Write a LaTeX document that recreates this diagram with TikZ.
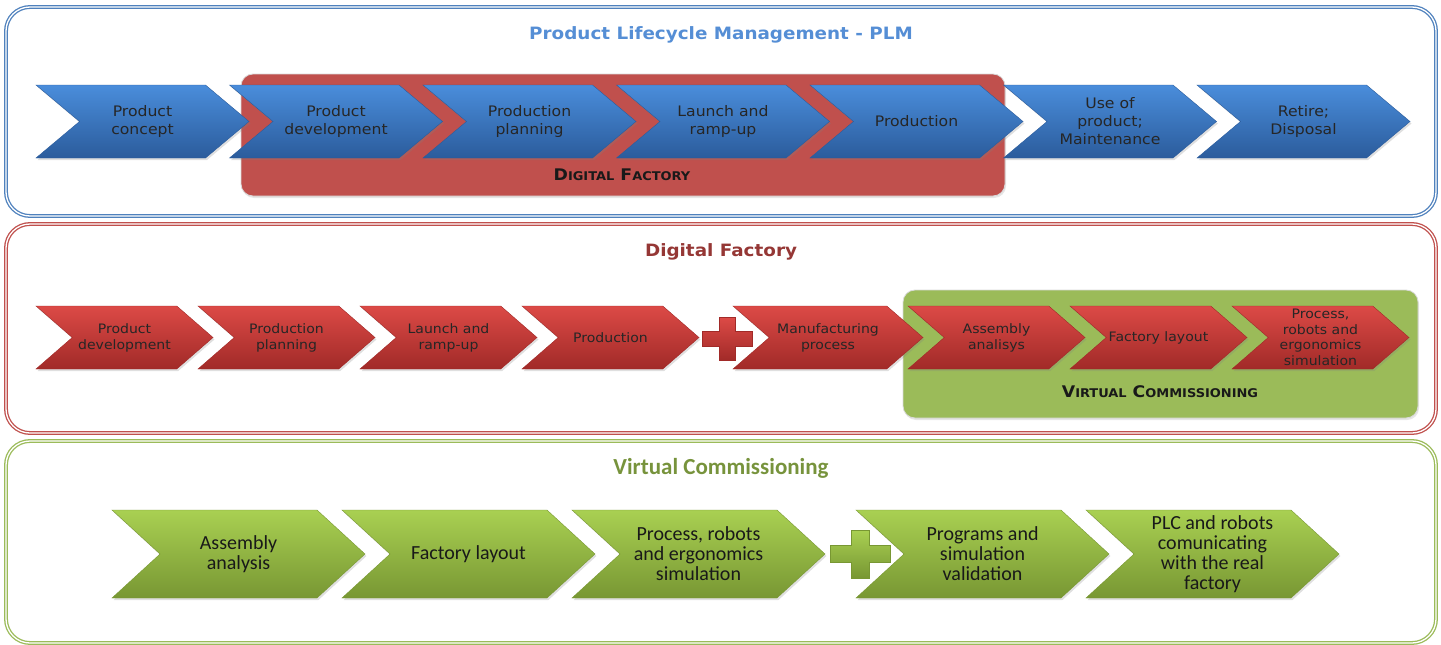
\documentclass[tikz,border=0pt]{standalone}
\usepackage{fontspec}
\usetikzlibrary{shapes.symbols,shadows}
\newfontfamily\verd[FakeStretch=1.08]{DejaVu Sans}
\newfontfamily\calib{Carlito}

\definecolor{plmline}{HTML}{4F81BD}
\definecolor{plmtext}{HTML}{558ED5}
\definecolor{dfline}{HTML}{C0504D}
\definecolor{dftext}{HTML}{953735}
\definecolor{vcline}{HTML}{9BBB59}
\definecolor{vctext}{HTML}{77933C}
\definecolor{bluetop}{HTML}{4A8DDB}
\definecolor{bluemid}{HTML}{3B7BCA}
\definecolor{bluebot}{HTML}{2B5C9C}
\definecolor{redtop}{HTML}{DC4A46}
\definecolor{redmid}{HTML}{CF3E3B}
\definecolor{redbot}{HTML}{A12A28}
\definecolor{greentop}{HTML}{A9D052}
\definecolor{greenmid}{HTML}{9CC046}
\definecolor{greenbot}{HTML}{789733}

% fake small caps for the box labels
\newcommand{\fakesc}[2]{#1{\fontsize{12}{12}\selectfont #2}}

\begin{document}
\begin{tikzpicture}[x=1pt, y=-1pt,
    panel/.style={rounded corners=24pt, line width=1.3pt, double=white, double distance=1.3pt},
    groupbox/.style={rounded corners=12pt, draw=white!70!gray, line width=0.8pt, drop shadow={opacity=0.2, shadow xshift=1pt, shadow yshift=-2pt}},
    chev/.style={signal, signal from=west, signal to=east, inner sep=0pt, align=center, line width=0.4pt, drop shadow={opacity=0.25, shadow xshift=1.5pt, shadow yshift=-2pt}},
    bluechev/.style={chev, draw=bluebot, top color=bluetop, middle color=bluemid, bottom color=bluebot, minimum width=213pt, minimum height=73pt, signal pointer angle=80, text=black!85, font=\verd\fontsize{14.5}{18}\selectfont},
    redchev/.style={chev, draw=redbot, top color=redtop, middle color=redmid, bottom color=redbot, minimum width=177pt, minimum height=63pt, signal pointer angle=82, text=black!85, font=\verd\fontsize{13}{16}\selectfont},
    greenchev/.style={chev, draw=greenbot, top color=greentop, middle color=greenmid, bottom color=greenbot, minimum width=253pt, minimum height=88pt, signal pointer angle=85, text=black!90, font=\calib\fontsize{20}{20}\selectfont},
    title/.style={font=\verd\bfseries\fontsize{17}{20}\selectfont},
    boxlabel/.style={text=black!90, font=\verd\bfseries\fontsize{16}{16}\selectfont},
    redplus/.style={draw=redbot, top color=redtop, bottom color=redbot, line width=0.4pt},
    greenplus/.style={draw=greenbot, top color=greentop, bottom color=greenbot, line width=0.4pt}
]
\useasboundingbox (0,0) rectangle (1441,645);

% Panels
\draw[panel, draw=plmline] (6,7) rectangle (1436,216);
\draw[panel, draw=dfline] (6,224) rectangle (1436,433);
\draw[panel, draw=vcline] (6,441) rectangle (1436,643);

% Group boxes
\fill[groupbox, fill=dfline] (241,74) rectangle (1005,196);
\fill[groupbox, fill=vcline] (903,290) rectangle (1418,418);

% Titles
\node[title, text=plmtext] (plmtitle) at (721,35) {Product Lifecycle Management - PLM};
\node[title, text=dftext] (dftitle) at (721,252) {Digital Factory};
\node[text=vctext, font=\calib\bfseries\fontsize{23}{26}\selectfont] (vctitle) at (721,468) {Virtual Commissioning};

% PLM chain
\node[bluechev] (concept) at (142.5,121.5) {Product\\concept};
\node[bluechev] (development) at (336,121.5) {Product\\development};
\node[bluechev] (planning) at (529.5,121.5) {Production\\planning};
\node[bluechev] (launch) at (723,121.5) {Launch and\\ramp-up};
\node[bluechev] (production) at (916.5,121.5) {Production};
\node[bluechev] (use) at (1110,121.5) {Use of\\product;\\Maintenance};
\node[bluechev] (retire) at (1303.5,121.5) {Retire;\\Disposal};
\node[boxlabel] (dflabel) at (622,175) {\fakesc{D}{IGITAL} \fakesc{F}{ACTORY}};

% Digital factory chain
\node[redchev] (dfdev) at (124.5,337.5) {Product\\development};
\node[redchev] (dfplan) at (286.5,337.5) {Production\\planning};
\node[redchev] (dflaunch) at (448.5,337.5) {Launch and\\ramp-up};
\node[redchev] (dfprod) at (610.5,337.5) {Production};
\coordinate (dfplus) at (727,339);
\path[redplus, shift={(dfplus)}] (-25,-7.5) -- (-8,-7.5) -- (-8,-21.5) -- (8,-21.5) -- (8,-7.5) -- (25,-7.5)
    -- (25,7.5) -- (8,7.5) -- (8,21.5) -- (-8,21.5) -- (-8,7.5) -- (-25,7.5) -- cycle;
\node[redchev, minimum width=190pt] (dfmanu) at (828,337.5) {Manufacturing\\process};
\node[redchev] (dfassembly) at (996.5,337.5) {Assembly\\analisys};
\node[redchev] (dflayout) at (1158.5,337.5) {Factory layout};
\node[redchev, font=\verd\fontsize{13}{15.5}\selectfont] (dfsim) at (1320.5,337.5) {Process,\\robots and\\ergonomics\\simulation};
\node[boxlabel] (vclabel) at (1160,392) {\fakesc{V}{IRTUAL} \fakesc{C}{OMMISSIONING}};

% Virtual commissioning chain
\node[greenchev] (vcassembly) at (238.5,554) {Assembly\\analysis};
\node[greenchev] (vclayout) at (468.5,554) {Factory layout};
\node[greenchev] (vcsim) at (698.5,554) {Process, robots\\and ergonomics\\simulation};
\coordinate (vcplus) at (860,554);
\path[greenplus, shift={(vcplus)}] (-30,-8.5) -- (-9,-8.5) -- (-9,-24) -- (9,-24) -- (9,-8.5) -- (30,-8.5)
    -- (30,8.5) -- (9,8.5) -- (9,24) -- (-9,24) -- (-9,8.5) -- (-30,8.5) -- cycle;
\node[greenchev] (vcvalid) at (982.5,554) {Programs and\\simulation\\validation};
\node[greenchev] (vcplc) at (1212.5,554) {PLC and robots\\comunicating\\with the real\\factory};

\end{tikzpicture}
\end{document}
